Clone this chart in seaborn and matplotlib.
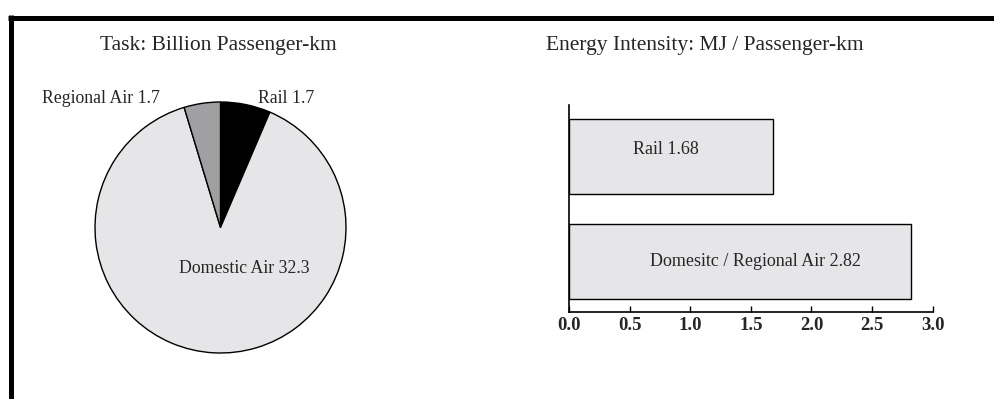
import matplotlib
matplotlib.use("Agg")
import matplotlib.pyplot as plt
from matplotlib.lines import Line2D
import seaborn as sns
import pandas as pd

# ---- data ----
pie_labels = ["Rail", "Domestic Air", "Regional Air"]
pie_sizes = [2.34, 32.3, 1.7]          # wedge sizes as drawn
pie_label_values = ["1.7", "32.3", "1.7"]  # values printed on the chart
pie_colors = ["#000000", "#e6e6e8", "#a0a0a2"]

bar_categories = ["Rail", "Domesitc / Regional Air"]
bar_values = [1.68, 2.82]
x_ticks = [0.0, 0.5, 1.0, 1.5, 2.0, 2.5, 3.0]

sns.set_style("white")
plt.rcParams['font.family'] = ['Liberation Serif', 'DejaVu Serif']

W, H = 994, 399
fig = plt.figure(figsize=(W / 100, H / 100), dpi=100)

def fx(px):
    return px / W

def fy(py):
    return 1 - py / H

# border lines (top and left)
lw = 5 * 72 / 100
fig.add_artist(Line2D([fx(8), 1.0], [fy(17.5), fy(17.5)], color="black", lw=lw,
                      solid_capstyle="butt"))
fig.add_artist(Line2D([fx(10.5), fx(10.5)], [fy(15), 0.0], color="black", lw=lw,
                      solid_capstyle="butt"))

# ---- pie ----
cx, cy, r = 220.5, 227.5, 125.5
ax1 = fig.add_axes([fx(cx - r), fy(cy + r), (2 * r) / W, (2 * r) / H])
ax1.pie(pie_sizes, colors=pie_colors, startangle=90, counterclock=False,
        wedgeprops=dict(edgecolor="black", linewidth=1.0))
ax1.set_xlim(-1, 1)
ax1.set_ylim(-1, 1)
ax1.set_aspect("equal")
ax1.axis("off")

pie_text_pos = {"Rail": (0.522, 1.03), "Domestic Air": (0.187, -0.33),
                "Regional Air": (-0.952, 1.03)}
for lab, val in zip(pie_labels, pie_label_values):
    x, y = pie_text_pos[lab]
    ax1.text(x, y, f"{lab} {val}", ha="center", va="center", fontsize=12.8,
             clip_on=False)

fig.text(fx(218), fy(50), "Task: Billion Passenger-km", ha="center", va="baseline",
         fontsize=15.5)
fig.text(fx(705), fy(50), "Energy Intensity: MJ / Passenger-km", ha="center",
         va="baseline", fontsize=15.5)

# ---- bar ----
ax2 = fig.add_axes([fx(569), fy(311.7), (932.7 - 569) / W, (311.7 - 105) / H])
df = pd.DataFrame({"category": bar_categories, "value": bar_values})
sns.barplot(data=df, x="value", y="category", ax=ax2, color="#e6e6e8",
            edgecolor="black", linewidth=1.0, width=0.714, saturation=1)
ax2.set_xlim(0, 3.0)
ax2.set_ylim(1.476, -0.49)
ax2.set_xlabel("")
ax2.set_ylabel("")
ax2.set_xticks(x_ticks)
ax2.set_xticklabels([f"{t:.1f}" for t in x_ticks], fontweight="bold", fontsize=13.5)
ax2.set_yticklabels([])
ax2.tick_params(axis="y", direction="in", length=6, width=1, left=True, color="black")
ax2.tick_params(axis="x", direction="in", length=4, width=1, bottom=True,
                color="black", pad=4)
for s in ["top", "right"]:
    ax2.spines[s].set_visible(False)
for s in ["left", "bottom"]:
    ax2.spines[s].set_color("black")
    ax2.spines[s].set_linewidth(1.2)

for i, (cat, val) in enumerate(zip(bar_categories, bar_values)):
    xoff = [0.8, 1.54][i]
    yoff = [-0.07, 0.0][i]
    ax2.text(xoff, i + yoff, f"{cat} {val:.2f}", ha="center", va="center",
             fontsize=13)

fig.savefig("out.png", dpi=100, facecolor="white")
